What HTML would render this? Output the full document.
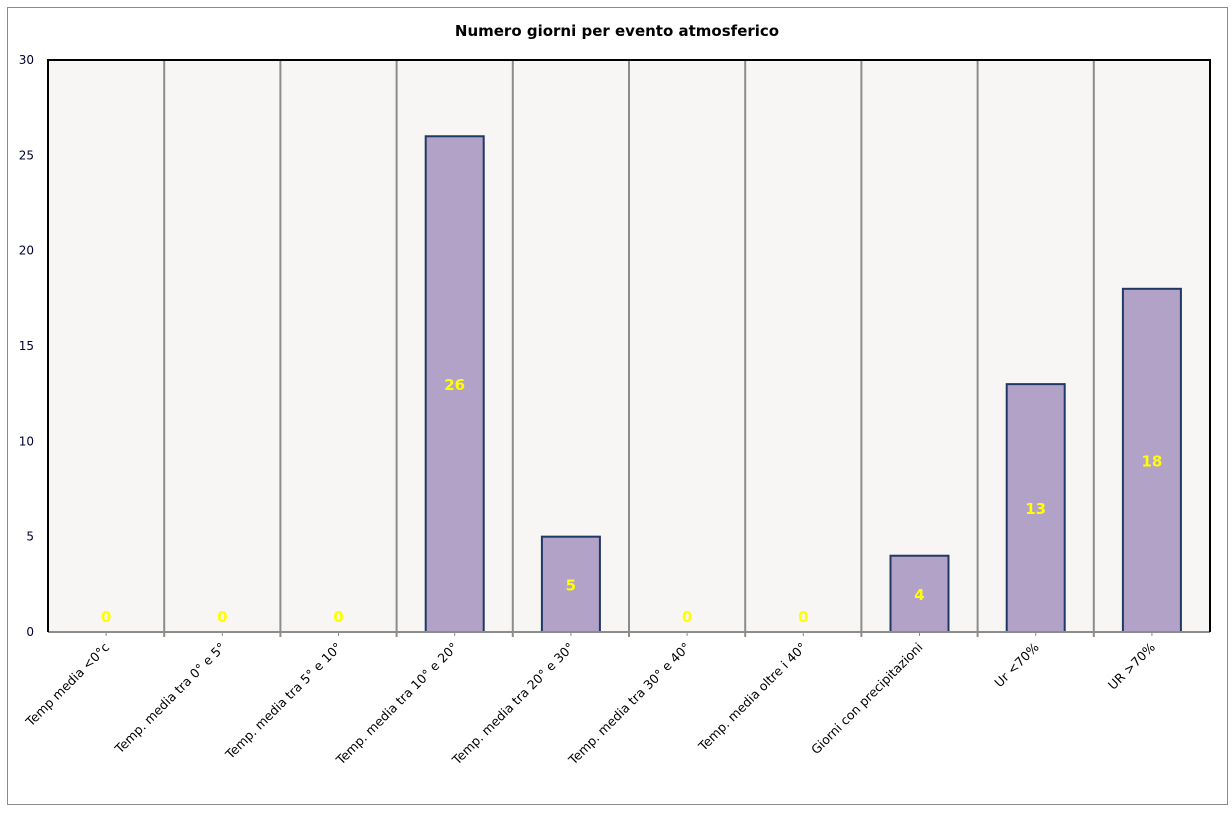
<!DOCTYPE html>
<html><head><meta charset="utf-8"><style>
body{margin:0;background:#fff;}
svg text{font-family:"DejaVu Sans","Liberation Sans",sans-serif;}
</style></head><body>
<svg id="c" width="1232" height="809">
<rect x="7.5" y="7.5" width="1220" height="797" fill="#fff" stroke="#8c8c8c"/>
<text x="617" y="36" text-anchor="middle" font-size="15" font-weight="bold">Numero giorni  per evento atmosferico</text>
<g id="g"></g>
</svg>
<script>
const categories=["Temp media <0°c","Temp. media tra 0° e 5°","Temp. media tra 5° e 10°","Temp. media tra 10° e 20°","Temp. media tra 20° e 30°","Temp. media tra 30° e 40°","Temp. media oltre i 40°","Giorni con precipitazioni","Ur  <70%","UR >70%"];
const values=[0,0,0,26,5,0,0,4,13,18];
const yTicks=[0,5,10,15,20,25,30];
const L=48,R=1210,T=60,B=632,yMax=30;
const cw=(R-L)/categories.length;
const y=v=>B-(v/yMax)*(B-T);
const x=i=>L+cw*i;
const g=document.getElementById('g');
const NS='http://www.w3.org/2000/svg';
function mk(t,a,p){const e=document.createElementNS(NS,t);for(const k in a)e.setAttribute(k,a[k]);(p||g).appendChild(e);return e;}
const bg=mk('rect',{x:L,y:T,width:R-L,height:B-T,fill:'#f8f6f4'});


for(let i=1;i<categories.length;i++){
 const l=mk('line',{x1:x(i),x2:x(i),y1:T,y2:B+5,stroke:'#8c8c8c','stroke-width':2});
 
 
}
yTicks.forEach(v=>{
 const t=mk('text',{x:34,y:y(v)+4,'text-anchor':'end','font-size':12,fill:'#000033'});
 t.textContent=v;
 
 
});
values.forEach((v,i)=>{
 const cx=x(i)+cw/2;
 if(v>0){
  const b=mk('rect',{x:cx-29,y:y(v),width:58,height:B-y(v),fill:'#b3a2c7',stroke:'#1f3864','stroke-width':2});
  
  
 }
 const vy=v>0?(y(v)+B)/2+6:B-10;
 const t=mk('text',{x:cx,y:vy,'text-anchor':'middle','font-size':15,'font-weight':'bold',fill:'#ffff00'});
 t.textContent=v;
 
 
 const tk=mk('line',{x1:cx,x2:cx,y1:B,y2:B+4,stroke:'#8c8c8c','stroke-width':1});
 
 
 const lb=mk('text',{x:cx+4,y:B+16,'text-anchor':'end','font-size':12.5,transform:`rotate(-45 ${cx+4} ${B+16})`});
 lb.textContent=categories[i];
 
 
});
const ax=mk('line',{x1:L,x2:R,y1:B,y2:B,stroke:'#8c8c8c','stroke-width':2});


const fr=mk('path',{d:`M${L} ${B} V${T} H${R} V${B}`,fill:'none',stroke:'#000','stroke-width':2});


</script>
</body></html>
